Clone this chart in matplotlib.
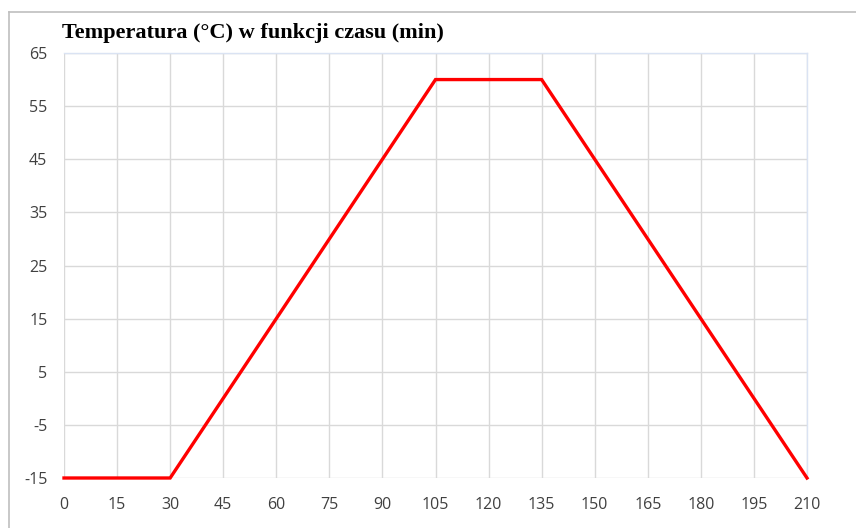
import matplotlib
matplotlib.use("Agg")
import matplotlib.pyplot as plt
from matplotlib.lines import Line2D

plt.rcParams["axes.unicode_minus"] = False

time_min = [0, 30, 105, 135, 210]
temperature_c = [-15, -15, 60, 60, -15]
x_ticks = list(range(0, 211, 15))
y_ticks = list(range(-15, 66, 10))
title = "Temperatura (°C) w funkcji czasu (min)"

fig = plt.figure(figsize=(8.56, 5.28), dpi=100)
ax = fig.add_axes([64/856, 50/528, (807-64)/856, (478-53)/528])

ax.plot(time_min, temperature_c, color="#ff0000", lw=2.4, solid_joinstyle="miter", zorder=3, clip_on=False)
ax.set_xlim(0, 210)
ax.set_ylim(-15, 65)
ax.set_xticks(x_ticks)
ax.set_yticks(y_ticks)
ax.grid(True, color="#d9d9d9", lw=1.0)
ax.set_axisbelow(True)
for s in ["left", "bottom"]:
    ax.spines[s].set_visible(False)
ax.spines["top"].set_color("#dae3f3")
ax.spines["right"].set_color("#dae3f3")
ax.spines["top"].set_linewidth(1.0)
ax.spines["right"].set_linewidth(1.0)
ax.tick_params(axis="y", length=0, labelsize=11.5, labelcolor="#404040", pad=12)
ax.tick_params(axis="x", length=0, labelsize=11.5, labelcolor="#404040", pad=14)
for lab in ax.get_xticklabels() + ax.get_yticklabels():
    lab.set_fontfamily("Open Sans")

fig.text(62/856, 1 - 38/528, title, fontsize=16, fontweight="bold",
         family="Liberation Serif", color="black", ha="left", va="baseline")

fig.add_artist(Line2D([9/856, 9/856], [0, 1 - 12/528], color="#bfbfbf", lw=1.2, transform=fig.transFigure))
fig.add_artist(Line2D([9/856, 1], [1 - 12/528, 1 - 12/528], color="#bfbfbf", lw=1.2, transform=fig.transFigure))

fig.savefig("out.png", dpi=100)
